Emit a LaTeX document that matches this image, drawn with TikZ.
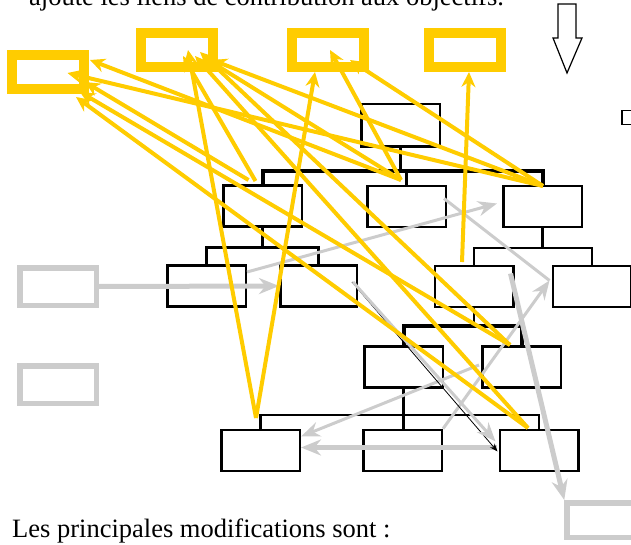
\documentclass[tikz,border=0pt]{standalone}
\usepackage{fontspec}
\setmainfont{Liberation Serif}
\usetikzlibrary{arrows.meta}
\definecolor{goalyellow}{HTML}{FFCC00}
\definecolor{linkgrey}{HTML}{CCCCCC}
\begin{document}
\begin{tikzpicture}[x=1pt,y=-1pt,
    orgbox/.style={draw, line width=2.5pt, minimum width=78.5pt, minimum height=41pt, inner sep=0pt},
    goalbox/.style={draw=goalyellow, line width=10pt, minimum width=72pt, minimum height=34pt, inner sep=0pt},
    extbox/.style={draw=linkgrey, line width=5.5pt, minimum width=76.5pt, minimum height=37.5pt, inner sep=0pt},
    bar/.style={line width=2.5pt},
    thickbar/.style={line width=4pt},
    contrib/.style={goalyellow, line width=4pt, -{Stealth[length=15pt,width=14pt]}},
    link/.style={linkgrey, line width=3pt, -{Stealth[length=19pt,width=15pt]}},
    biglink/.style={linkgrey, line width=5pt, -{Stealth[length=20pt,width=16pt]}},
    txt/.style={anchor=base west, inner sep=0pt, font=\fontsize{26.5}{32}\selectfont}]
\useasboundingbox (0,0) rectangle (631,545);

\node[txt] (intro) at (29,5.5) {ajoute les liens de contribution aux objectifs.};
\node[txt] (outro) at (12,537) {Les principales modifications sont :};

\node[goalbox] (o1) at (47.5,72.5) {};
\node[goalbox] (o2) at (176.5,50) {};
\node[goalbox] (o3) at (328,50) {};
\node[goalbox] (o4) at (464.5,50) {};

\draw[line width=1.2pt] (558,4) -- (576,4) -- (576,38) -- (582,38) -- (567,73) -- (553,38) -- (558,38) -- cycle;
\node[draw, line width=1.3pt, minimum width=18pt, minimum height=14pt, inner sep=0pt] (stub) at (631,117.5) {};

\node[extbox] (e1) at (58,286.5) {};
\node[extbox] (e2) at (58,384.5) {};
\node[extbox, minimum height=34.5pt] (e3) at (605.25,520) {};

\node[orgbox, minimum height=42.5pt] (dg) at (400.5,125.5) {};
\node[orgbox] (s1) at (262.5,206) {};
\node[orgbox] (s2) at (406.5,206.5) {};
\node[orgbox] (s3) at (542.5,206.5) {};
\node[orgbox] (s11) at (206.5,286) {};
\node[orgbox, minimum width=76.5pt] (s12) at (318.5,286) {};
\node[orgbox] (s31) at (474,286.5) {};
\node[orgbox] (s32) at (592,286.5) {};
\node[orgbox] (s311) at (403.5,367) {};
\node[orgbox] (s312) at (521.5,367) {};
\node[orgbox] (b1) at (260.5,450.5) {};
\node[orgbox] (b2) at (402.5,450.5) {};
\node[orgbox] (b3) at (539,450.5) {};

\draw[bar] (dg.south) -- ++(0,23);
\draw[thickbar] (s1.north) -- ++(0,-13) -| (s3.north);
\draw[bar] (s2.north) -- ++(0,-12);
\draw[bar] (s1.south) -- ++(0,20);
\draw[bar] (s11.north) -- ++(0,-17) -| (s12.north);
\draw[bar] (s3.south) -- ++(0,20);
\draw[bar] (s31.north) -- ++(0,-17) -| (s32.north);
\draw[bar] (s31.south) -- ++(0,18);
\draw[thickbar] (s311.north) -- ++(0,-19) -| (s312.north);
\draw[bar] (s311.south) -- (s311.south |- b2.north);
\draw[bar] (b1.north) -- ++(0,-14) -| (b3.north);

\draw[biglink] (e1.east) -- (s12.west);
\draw[link] ([shift={(0,-14)}]s11.east) -- ([shift={(-5,-3)}]s3.west);
\draw[linkgrey, line width=3pt] ([shift={(-3,-8)}]s2.east) -- ([shift={(-2,-6)}]s32.west);
\draw[link] (b2.north east) -- ([shift={(-2,-6)}]s32.west);
\draw[link] ([shift={(-2,-2)}]s312.west) -- ([shift={(0,-14)}]b1.east);
\draw[biglink] ([shift={(-2,-3)}]b3.west) -- ([shift={(0,-3)}]b1.east);
\draw[-{Stealth[length=8pt,width=6pt]}, line width=0.8pt] ([shift={(-6,-4)}]s12.east) -- ([shift={(-1,1)}]b3.west);
\draw[link] ([shift={(-5,-4)}]s12.east) -- ([shift={(-3,-9)}]b3.west);
\draw[biglink] ([shift={(-4,-13)}]s31.east) -- (e3.north west);

\draw[contrib] ([shift={(-4.5,-32.5)}]b1.center) -- ([shift={(11.5,0)}]o2.center);
\draw[contrib] ([shift={(-4.5,-32.5)}]b1.center) -- ([shift={(-13,22)}]o3.center);
\draw[contrib] ([shift={(-14,-26)}]s1.center) -- ([shift={(37.5,9.5)}]o1.center);
\draw[contrib] ([shift={(-7,-25)}]s1.center) -- ([shift={(6.5,6)}]o2.center);
\draw[contrib] ([shift={(-5.5,-26.5)}]s2.center) -- ([shift={(42.5,-12.5)}]o1.center);
\draw[contrib] ([shift={(-5.5,-26.5)}]s2.center) -- ([shift={(28.5,8)}]o2.center);
\draw[contrib] ([shift={(-5.5,-26.5)}]s2.center) -- ([shift={(2,0)}]o3.center);
\draw[contrib] ([shift={(0.5,-20.5)}]s3.center) -- ([shift={(20,0.5)}]o1.center);
\draw[contrib] ([shift={(0.5,-20.5)}]s3.center) -- ([shift={(35.5,10)}]o2.center);
\draw[contrib] ([shift={(0.5,-20.5)}]s3.center) -- ([shift={(22,10)}]o3.center);
\draw[contrib] ([shift={(-12,-24.5)}]s31.center) -- ([shift={(4.5,22)}]o4.center);
\draw[contrib] ([shift={(-11.5,-22)}]s312.center) -- ([shift={(32.5,19.5)}]o1.center);
\draw[contrib] ([shift={(-11.5,-22)}]s312.center) -- ([shift={(23.5,2)}]o2.center);
\draw[contrib] ([shift={(-11,-22.5)}]b3.center) -- ([shift={(28.5,24.5)}]o1.center);
\draw[contrib] ([shift={(-11,-22.5)}]b3.center) -- ([shift={(18.5,6)}]o2.center);
\end{tikzpicture}
\end{document}
